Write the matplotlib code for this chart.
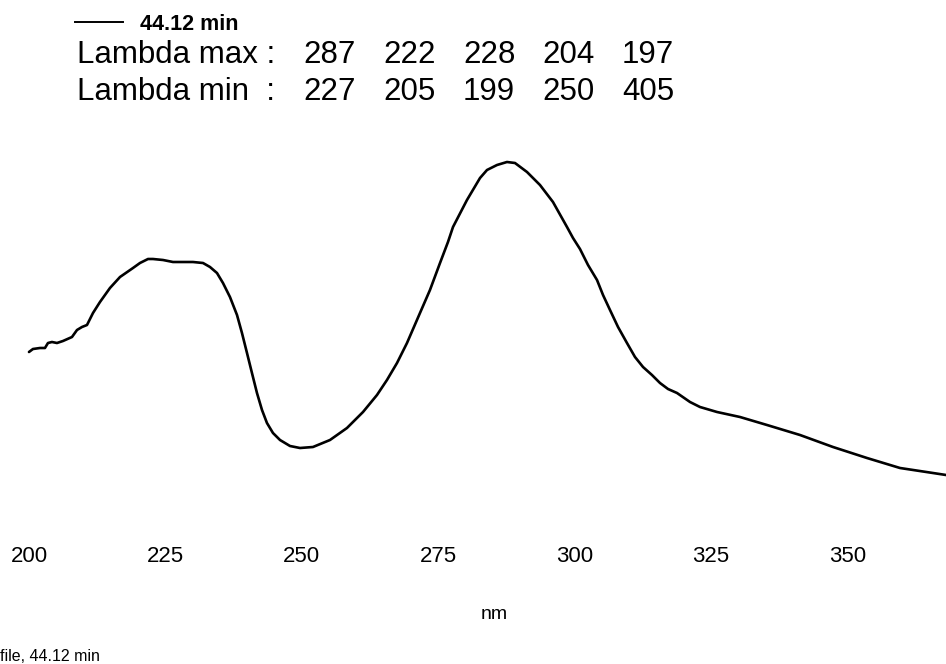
import matplotlib
matplotlib.use("Agg")
import matplotlib.pyplot as plt

# UV spectrum of the peak at 44.12 min (absorbance, arbitrary units)
wavelength_nm = [
    200.00, 200.73, 202.02, 202.93, 203.48, 204.21, 205.13, 206.23, 207.88,
    208.80, 209.71, 210.63, 211.73, 213.01, 214.84, 216.68, 219.06, 220.34,
    221.81, 222.72, 224.56, 226.39, 227.67, 230.05, 231.89, 233.17, 234.45,
    235.55, 236.83, 238.12, 239.03, 239.95, 240.86, 241.78, 242.70, 243.61,
    244.71, 246.00, 247.83, 249.66, 252.04, 255.16, 258.27, 261.21, 263.77,
    265.60, 267.44, 269.27, 271.65, 273.48, 275.32, 276.78, 277.70, 280.26,
    282.65, 283.93, 285.76, 287.59, 289.06, 291.26, 293.64, 296.02, 298.59,
    299.69, 300.97, 302.44, 304.09, 305.19, 306.47, 307.94, 309.58, 311.05,
    312.52, 314.16, 315.63, 317.10, 318.75, 321.13, 322.96, 326.08, 330.29,
    335.24, 341.29, 347.33, 353.56, 359.61, 365.65, 368.04,
]
absorbance = [
    148, 151, 152, 152, 157, 158, 157, 159, 163,
    170, 173, 175, 187, 198, 212, 223, 232, 237,
    241, 241, 240, 238, 238, 238, 237, 233, 227,
    217, 203, 185, 167, 147, 127, 107, 90, 77,
    67, 60, 54, 52, 53, 60, 72, 88, 105,
    120, 137, 157, 187, 210, 237, 258, 273, 300,
    322, 330, 335, 338, 337, 328, 315, 298, 273,
    262, 251, 235, 220, 205, 190, 173, 157, 143,
    133, 125, 117, 111, 107, 98, 93, 88, 83,
    75, 65, 53, 42, 32, 27, 25,
]

x_ticks = [200, 225, 250, 275, 300, 325, 350]
lambda_max = [287, 222, 228, 204, 197]
lambda_min = [227, 205, 199, 250, 405]
trace_label = "44.12 min"

W, H = 946, 664
plt.rcParams["font.family"] = ["Liberation Sans", "DejaVu Sans"]
fig = plt.figure(figsize=(W / 100, H / 100), dpi=100)
fig.patch.set_facecolor("white")


def fx(px):
    return px / W


def fy(py):
    return 1 - py / H


# plot area: spans the full width, bottom edge just above the tick labels
ax = fig.add_axes([0, fy(540), 1, fy(0) - fy(540)])
ax.plot(wavelength_nm, absorbance, color="black", lw=1.9,
        solid_joinstyle="round", solid_capstyle="round")
ax.set_xlim(194.69, 368.04)
ax.set_ylim(-40, 500)
for s in ax.spines.values():
    s.set_visible(False)
ax.set_yticks([])
ax.set_xticks(x_ticks)
ax.set_xticklabels([str(t) for t in x_ticks])
ax.tick_params(axis="x", length=0, pad=4, labelsize=16, colors="black")
ax.patch.set_alpha(0)

# axis title and footer
fig.text(fx(494), fy(619), "nm", ha="center", va="baseline", fontsize=14)
fig.text(fx(0), fy(661), "file, 44.12 min", ha="left", va="baseline",
         fontsize=11.5)

# legend entry
fig.add_artist(plt.Line2D([fx(75), fx(123)], [fy(22), fy(22)],
                          color="black", lw=1.4))
fig.text(fx(140), fy(30), trace_label, ha="left", va="baseline",
         fontsize=15.5, fontweight="bold")

# lambda max / min table
row_y = [63, 100]
fig.text(fx(77), fy(row_y[0]), "Lambda max :", ha="left", va="baseline",
         fontsize=22.5)
fig.text(fx(77), fy(row_y[1]), "Lambda min  :", ha="left", va="baseline",
         fontsize=22.5)
col_x = [303, 383, 463, 542, 622]
for cx, vmax, vmin in zip(col_x, lambda_max, lambda_min):
    fig.text(fx(cx), fy(row_y[0]), str(vmax), ha="left", va="baseline",
             fontsize=22.5)
    fig.text(fx(cx), fy(row_y[1]), str(vmin), ha="left", va="baseline",
             fontsize=22.5)

fig.savefig("out.png", dpi=100, facecolor="white")
